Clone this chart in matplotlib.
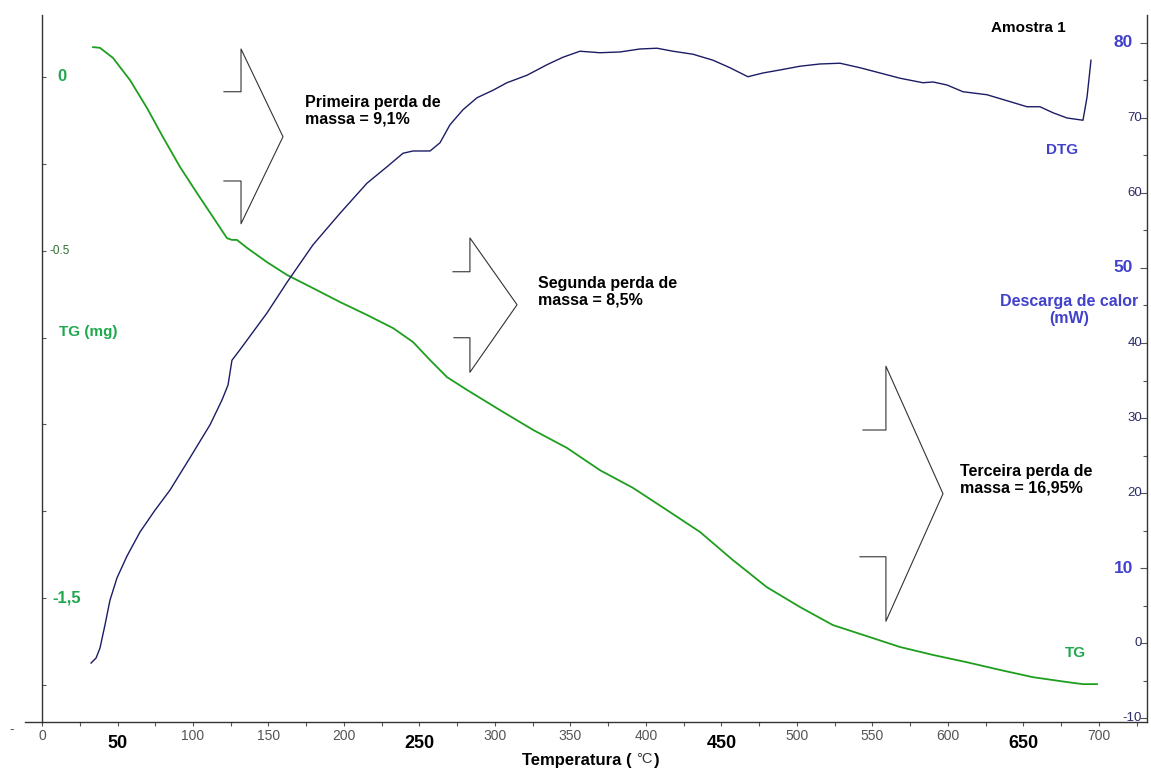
import matplotlib.pyplot as plt
from matplotlib.ticker import MultipleLocator

# TG curve (mass, mg)
tg_temp = [33.8, 38.4, 47.0, 58.3, 69.5, 80.1, 91.4, 102.6, 113.2, 122.5, 125.8, 129.1,
           135.8, 149.0, 162.3, 179.5, 197.4, 215.2, 232.5, 245.7, 257.0, 268.2, 281.5,
           303.3, 325.2, 347.7, 369.5, 391.4, 413.9, 435.8, 457.6, 480.1, 502.0, 523.8,
           546.4, 568.2, 590.1, 612.6, 634.4, 656.3, 678.8, 689.4, 698.7]
tg_mass = [0.086, 0.084, 0.055, -0.009, -0.089, -0.173, -0.259, -0.334, -0.403, -0.464,
           -0.469, -0.469, -0.492, -0.533, -0.570, -0.608, -0.648, -0.685, -0.723, -0.763,
           -0.815, -0.864, -0.901, -0.959, -1.016, -1.068, -1.132, -1.183, -1.247, -1.310,
           -1.391, -1.469, -1.526, -1.578, -1.610, -1.641, -1.664, -1.685, -1.707, -1.728,
           -1.742, -1.748, -1.748]

# DTG curve (heat flow, mW)
dtg_temp = [32.5, 35.8, 38.4, 41.7, 45.0, 49.7, 56.3, 64.9, 74.8, 84.8, 98.0, 111.3,
            119.2, 123.2, 125.8, 131.1, 149.0, 162.3, 179.5, 197.4, 215.2, 228.5, 239.1,
            245.7, 257.0, 263.6, 270.2, 278.8, 288.1, 298.7, 307.9, 321.2, 334.4, 345.0,
            356.3, 369.5, 382.8, 396.0, 407.3, 417.9, 431.1, 444.4, 455.6, 467.5, 477.5,
            488.7, 502.0, 515.2, 528.5, 541.7, 555.0, 568.2, 583.4, 590.1, 599.3, 609.9,
            625.8, 639.1, 652.3, 660.9, 669.5, 678.8, 689.4, 692.1, 694.7]
dtg_heat = [-2.67, -2.0, -0.67, 2.4, 5.7, 8.7, 11.6, 14.8, 17.7, 20.4, 24.7, 29.1,
            32.4, 34.4, 37.7, 39.1, 44.0, 48.1, 53.1, 57.3, 61.3, 63.5, 65.3,
            65.6, 65.6, 66.7, 69.1, 71.1, 72.7, 73.7, 74.7, 75.7, 77.1, 78.1,
            78.9, 78.7, 78.8, 79.2, 79.3, 78.9, 78.5, 77.7, 76.7, 75.5, 76.0,
            76.4, 76.9, 77.2, 77.3, 76.7, 76.0, 75.3, 74.7, 74.8, 74.4, 73.5,
            73.1, 72.3, 71.5, 71.5, 70.7, 70.0, 69.7, 72.8, 77.7]

x_ticks = list(range(0, 701, 50))
x_big = [50, 250, 450, 650]
right_ticks = list(range(-10, 81, 10))
right_big = [80, 50, 10]
left_ticks = [0, -0.25, -0.5, -0.75, -1.0, -1.25, -1.5, -1.75]

# open block-arrow outlines (temperature, mW)
arrows = [
    ([120.5, 131.8, 131.8, 159.6, 131.8, 131.8, 120.5], [73.5, 73.5, 79.2, 67.5, 55.9, 61.6, 61.6]),
    ([272.2, 283.4, 283.4, 314.6, 283.4, 283.4, 272.8], [49.5, 49.5, 54.0, 45.1, 36.1, 40.7, 40.7]),
    ([543.7, 558.9, 558.9, 596.7, 558.9, 558.9, 541.7], [28.4, 28.4, 36.9, 19.9, 2.9, 11.5, 11.5]),
]
notes = [
    ("Primeira perda de\nmassa = 9,1%", 305, 111),
    ("Segunda perda de\nmassa = 8,5%", 538, 292),
    ("Terceira perda de\nmassa = 16,95%", 960, 480),
]

GREEN_LINE = "#1e9e1e"
GREEN_TXT = "#20a84f"
NAVY = "#1c1c66"
BLUE_TXT = "#4141cc"
BOLD = ["Liberation Sans", "DejaVu Sans"]
NARROW = ["Liberation Sans Narrow", "Liberation Sans", "DejaVu Sans"]

W, H = 1151, 772
fig = plt.figure(figsize=(W / 100, H / 100), dpi=100)
ax = fig.add_axes([25 / W, 1 - 722 / H, (1147 - 25) / W, (722 - 15) / H])
ax2 = ax.twinx()

ax.set_xlim(-11.26, 731.8)
ax.set_ylim(-1.857, 0.1785)
ax2.set_ylim(-10.53, 83.73)

ax.plot(tg_temp, tg_mass, color=GREEN_LINE, lw=1.3)
ax2.plot(dtg_temp, dtg_heat, color=NAVY, lw=1.0)

for xs, ys in arrows:
    ax2.plot(xs, ys, color="#333333", lw=0.8)

# spines
ax.spines["top"].set_visible(False)
ax.spines["right"].set_visible(False)
ax.spines["left"].set_position(("data", 0))
for s in ["top", "left", "bottom"]:
    ax2.spines[s].set_visible(False)
for sp in [ax.spines["left"], ax.spines["bottom"], ax2.spines["right"]]:
    sp.set_color("#333333")
    sp.set_linewidth(1.0)

# x axis
ax.set_xticks(x_ticks)
ax.set_xticklabels(["" if v in x_big else str(v) for v in x_ticks],
                   family=NARROW, fontsize=10, color="#555555")
ax.xaxis.set_minor_locator(MultipleLocator(25))
ax.tick_params(axis="x", which="both", direction="out", length=3, width=0.8,
               color="#555555", pad=2)
for v in x_big:
    ax.text(v, -0.03, str(v), transform=ax.get_xaxis_transform(), ha="center",
            va="center", fontsize=13, fontweight="bold", family=BOLD, color="black")

# left axis (TG)
ax.set_yticks(left_ticks)
ax.set_yticklabels([])
ax.tick_params(axis="y", direction="in", length=3, width=0.8, color="#555555")
yt = ax.get_yaxis_transform()
ax.text(0.0285, 0, "0", transform=yt, ha="left", va="center", fontsize=12,
        fontweight="bold", family=BOLD, color=GREEN_TXT)
ax.text(0.0215, -0.5, "-0.5", transform=yt, ha="left", va="center", fontsize=8.5,
        family=NARROW, color="#2d6e2d")
ax.text(0.024, -1.5, "-1,5", transform=yt, ha="left", va="center", fontsize=12,
        fontweight="bold", family=BOLD, color=GREEN_TXT)

# right axis (DTG)
ax2.set_yticks(right_ticks)
ax2.set_yticklabels([])
ax2.yaxis.set_minor_locator(MultipleLocator(5))
ax2.tick_params(axis="y", which="major", direction="in", length=5, width=0.8, color="#555555")
ax2.tick_params(axis="y", which="minor", direction="in", length=3, width=0.8, color="#555555")
yt2 = ax2.get_yaxis_transform()
for v in right_ticks:
    if v in right_big:
        ax2.text(0.9875, v, str(v), transform=yt2, ha="right", va="center", fontsize=12.5,
                 fontweight="bold", family=BOLD, color=BLUE_TXT)
    else:
        ax2.text(0.9955, v, str(v), transform=yt2, ha="right", va="center", fontsize=9.5,
                 family=NARROW, color="#2a2a66")

# texts
def ftext(px, py, s, weight="bold", **kw):
    fig.text(px / W, 1 - py / H, s, family=BOLD, fontweight=weight, **kw)

for s, px, py in notes:
    ftext(px, py, s, ha="left", va="center", fontsize=11.5, color="black", linespacing=1.15)

ftext(1028, 28, "Amostra 1", ha="center", va="center", fontsize=11, color="black")
ftext(1062, 150, "DTG", ha="center", va="center", fontsize=11, color=BLUE_TXT)
ftext(1069, 310, "Descarga de calor\n(mW)", ha="center", va="center", fontsize=11.5,
      color=BLUE_TXT, multialignment="center", linespacing=1.1)
ftext(88, 332, "TG (mg)", ha="center", va="center", fontsize=11, color=GREEN_TXT)
ftext(1075, 653, "TG", ha="center", va="center", fontsize=11, color=GREEN_TXT)
ftext(632, 760, "Temperatura (", ha="right", va="center", fontsize=12, color="black")
ftext(636, 759, "\u00b0C", weight="normal", ha="left", va="center", fontsize=10.5, color="#333333")
ftext(654, 760, ")", ha="left", va="center", fontsize=12, color="black")
fig.text(12 / W, 1 - 730 / H, "-", ha="center", va="center", fontsize=9, color="#555555")

fig.savefig("out.png", dpi=100)
